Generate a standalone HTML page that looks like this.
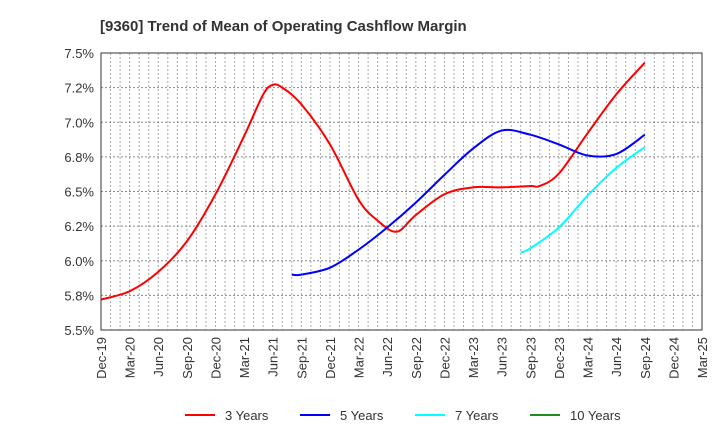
<!DOCTYPE html>
<html><head><meta charset="utf-8"><style>
body{margin:0;background:#fff;width:720px;height:440px;overflow:hidden;font-family:"Liberation Sans",sans-serif}
</style></head><body>
<svg id="c" width="720" height="440" xmlns="http://www.w3.org/2000/svg">
<text x="100" y="31" font-size="15" font-weight="bold" fill="#333">[9360]  Trend of Mean of Operating Cashflow Margin</text>
</svg>
<script>
const yTicks=[5.5,5.75,6.0,6.25,6.5,6.75,7.0,7.25,7.5];
const yTickLabels=["5.5%","5.8%","6.0%","6.2%","6.5%","6.8%","7.0%","7.2%","7.5%"];
const xTickLabels=["Dec-19","Mar-20","Jun-20","Sep-20","Dec-20","Mar-21","Jun-21","Sep-21","Dec-21","Mar-22","Jun-22","Sep-22","Dec-22","Mar-23","Jun-23","Sep-23","Dec-23","Mar-24","Jun-24","Sep-24","Dec-24","Mar-25"];
const months3=[0,3,6,9,12,15,17,18,19,21,24,27,29,31,33,36,39,42,45,46,48,51,54,57];
const vals3=[5.72,5.78,5.92,6.14,6.48,6.90,7.20,7.27,7.25,7.13,6.84,6.44,6.29,6.21,6.33,6.48,6.53,6.53,6.54,6.54,6.63,6.92,7.20,7.43];
const months5=[20,21,24,27,30,33,36,39,42,45,48,51,54,57];
const vals5=[5.90,5.90,5.95,6.08,6.24,6.42,6.62,6.81,6.94,6.91,6.84,6.76,6.77,6.91];
const months7=[44,45,48,51,54,57];
const vals7=[6.06,6.09,6.24,6.47,6.67,6.82];
const L=101,R=702,T=53,B=330,NM=63;
const sx=m=>L+(R-L)*m/NM;
const sy=v=>B-(v-5.5)/2*(B-T);
const svg=document.getElementById('c');
const NS="http://www.w3.org/2000/svg";
function mk(t,a){const e=document.createElementNS(NS,t);for(const k in a)e.setAttribute(k,a[k]);svg.appendChild(e);return e;}
for(let m=1;m<NM;m++){const l=mk('line',{x1:sx(m),x2:sx(m),y1:T,y2:B,stroke:'#aaa','stroke-dasharray':'2,2','stroke-width':1});

}
yTicks.forEach((v,i)=>{if(i>0&&i<yTicks.length-1){const g=mk('line',{x1:L,x2:R,y1:sy(v),y2:sy(v),stroke:'#888','stroke-dasharray':'2,2'});

}
const t=mk('text',{x:L-7,y:sy(v)+5,'font-size':13,fill:'#333','text-anchor':'end'});t.textContent=yTickLabels[i];

});
xTickLabels.forEach((s,i)=>{const x=sx(i*3);const t=mk('text',{transform:`translate(${x+5},${B+7}) rotate(-90)`,'font-size':13,fill:'#333','text-anchor':'end'});t.textContent=s;

});
const fr=mk('rect',{x:L,y:T,width:R-L,height:B-T,fill:'none',stroke:'#333','stroke-width':1});


function path(ms,vs){const p=ms.map((m,i)=>[sx(m),sy(vs[i])]);let d=`M${p[0][0]},${p[0][1]}`;
for(let i=0;i<p.length-1;i++){const p0=p[Math.max(0,i-1)],p1=p[i],p2=p[i+1],p3=p[Math.min(p.length-1,i+2)];
d+=` C${p1[0]+(p2[0]-p0[0])/6},${p1[1]+(p2[1]-p0[1])/6} ${p2[0]-(p3[0]-p1[0])/6},${p2[1]-(p3[1]-p1[1])/6} ${p2[0]},${p2[1]}`;}return d;}
const series=[[months3,vals3,'#ff0000','line-3-years'],[months5,vals5,'#0000ff','line-5-years'],[months7,vals7,'#00ffff','line-7-years']];
series.forEach(s=>{const n=Math.min(s[0].length,s[1].length);const e=mk('path',{d:path(s[0].slice(0,n),s[1].slice(0,n)),fill:'none',stroke:s[2],'stroke-width':2});

});
const leg=[["3 Years","#ff0000",185],["5 Years","#0000ff",300],["7 Years","#00ffff",415],["10 Years","#228b22",530]];
leg.forEach(l=>{const a=mk('line',{x1:l[2],x2:l[2]+30,y1:415,y2:415,stroke:l[1],'stroke-width':2});


const t=mk('text',{x:l[2]+40,y:420,'font-size':13,fill:'#333'});t.textContent=l[0];

});
</script>
</body></html>
